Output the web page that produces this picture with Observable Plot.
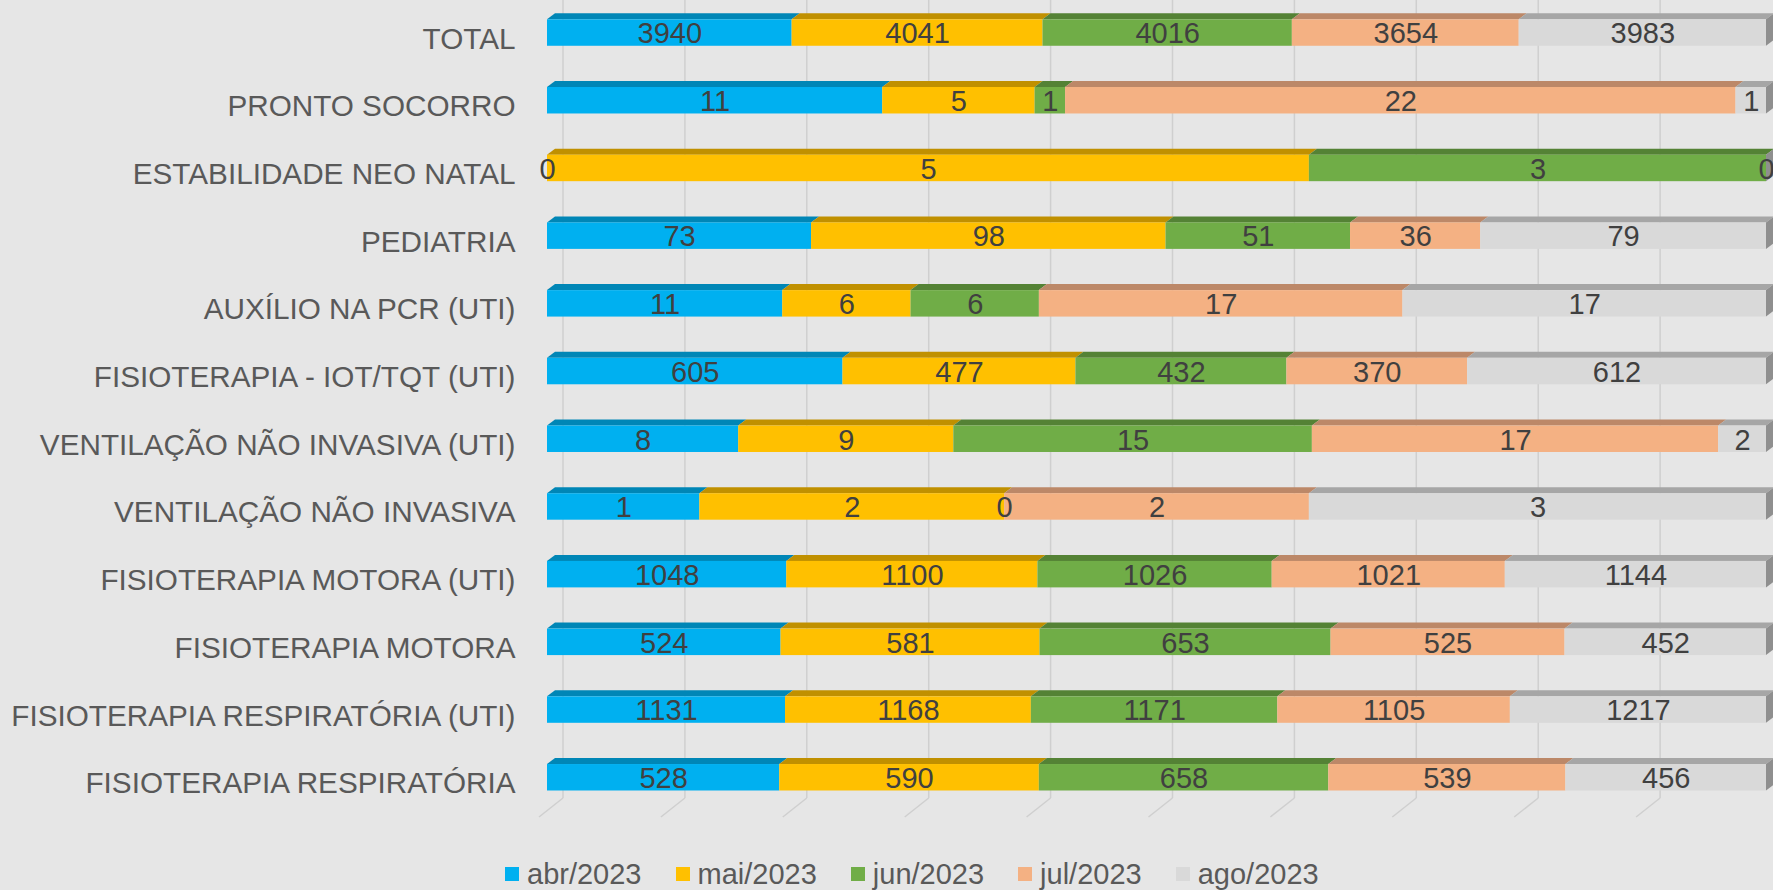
<!DOCTYPE html>
<html>
<head>
<meta charset="utf-8">
<script src="https://cdn.jsdelivr.net/npm/d3@7"></script>
<script src="https://cdn.jsdelivr.net/npm/@observablehq/plot@0.6"></script>
<style>
html,body{margin:0;padding:0;background:#e6e6e6;}
#chart{position:relative;width:1773px;height:890px;overflow:hidden;font-family:"Liberation Sans",Arial,sans-serif;}
#chart svg{display:block;}
#legend{position:absolute;left:505px;top:857px;display:flex;align-items:center;font-size:29px;line-height:34px;color:#595959;white-space:nowrap;}
.item{display:flex;align-items:center;margin-right:34px;}
.sw{width:14px;height:14px;margin-right:8px;}
</style>
</head>
<body>
<div id="chart"><div id="legend"></div></div>
<script>
const categories = [
  "TOTAL",
  "PRONTO SOCORRO",
  "ESTABILIDADE NEO NATAL",
  "PEDIATRIA",
  "AUXÍLIO NA PCR (UTI)",
  "FISIOTERAPIA - IOT/TQT (UTI)",
  "VENTILAÇÃO NÃO INVASIVA (UTI)",
  "VENTILAÇÃO NÃO INVASIVA",
  "FISIOTERAPIA MOTORA (UTI)",
  "FISIOTERAPIA MOTORA",
  "FISIOTERAPIA RESPIRATÓRIA (UTI)",
  "FISIOTERAPIA RESPIRATÓRIA"
];
const series = ["abr/2023", "mai/2023", "jun/2023", "jul/2023", "ago/2023"];
const abr = [3940, 11, 0, 73, 11, 605, 8, 1, 1048, 524, 1131, 528];
const mai = [4041, 5, 5, 98, 6, 477, 9, 2, 1100, 581, 1168, 590];
const jun = [4016, 1, 3, 51, 6, 432, 15, 0, 1026, 653, 1171, 658];
const jul = [3654, 22, null, 36, 17, 370, 17, 2, 1021, 525, 1105, 539];
const ago = [3983, 1, 0, 79, 17, 612, 2, 3, 1144, 452, 1217, 456];
const gridTicks = [0, 0.1, 0.2, 0.3, 0.4, 0.5, 0.6, 0.7, 0.8, 0.9];

const frontColors = ["#00B0F0", "#FFC000", "#70AD47", "#F4B183", "#D9D9D9"];
const topColors = ["#0086B6", "#C09000", "#548235", "#BC8868", "#A6A6A6"];
const sideColor = "#8F8F8F";

const seriesValues = [abr, mai, jun, jul, ago];
const table = [];
categories.forEach((cat, i) => {
  seriesValues.forEach((vals, s) => {
    if (vals[i] != null) table.push({cat, series: series[s], s, value: vals[i]});
  });
});

const DX = 8, DY = 6;
const font = '"Liberation Sans", Arial, sans-serif';

const stackOpts = (extra) => Plot.stackX({x: "value", y: "cat", z: "series", offset: "normalize", ...extra});

const svg = Plot.plot({
  width: 1773,
  height: 857,
  marginLeft: 547,
  marginRight: 7,
  marginTop: 0,
  marginBottom: 59,
  style: {background: "transparent", fontFamily: font, overflow: "visible"},
  x: {domain: [0, 1], axis: null},
  y: {domain: categories, paddingInner: 0.609, paddingOuter: 0.198, align: 0.72, round: false, axis: null},
  color: {type: "identity"},
  marks: [
    Plot.ruleX(gridTicks, {x: d => d, dx: 15.5, stroke: "#cfcfcf", strokeWidth: 1.5}),
    Plot.ruleX(gridTicks, {x: d => d, dx: 15.5, stroke: "#cfcfcf", strokeWidth: 1.5, ariaDescription: "floor"}),
    Plot.axisY({tickSize: 0, tickPadding: 32, fontSize: 29.7, fill: "#595959", label: null, dy: 6, fontFamily: font}),
    Plot.barX(table, stackOpts({fill: d => topColors[d.s], ariaDescription: "top"})),
    Plot.barX(categories, {x1: () => 1, x2: () => 1, y: d => d, fill: sideColor, ariaDescription: "side"}),
    Plot.barX(table, stackOpts({fill: d => frontColors[d.s]})),
    Plot.text(table, stackOpts({text: d => String(d.value), fill: "#404040", fontSize: 29, dy: 1, fontFamily: font}))
  ]
});

const NS = "http://www.w3.org/2000/svg";
const root = d3.select(svg);
root.selectAll('g[aria-description="top"] rect').each(function () {
  const x = +this.getAttribute("x"), y = +this.getAttribute("y"), w = +this.getAttribute("width");
  const p = document.createElementNS(NS, "path");
  p.setAttribute("d", `M${x},${y}H${x + w}L${x + w + DX},${y - DY}H${x + DX}Z`);
  if (this.getAttribute("fill")) p.setAttribute("fill", this.getAttribute("fill"));
  this.replaceWith(p);
});
root.selectAll('g[aria-description="side"] rect').each(function () {
  const x = +this.getAttribute("x"), y = +this.getAttribute("y"), h = +this.getAttribute("height");
  const p = document.createElementNS(NS, "path");
  p.setAttribute("d", `M${x},${y}L${x + DX},${y - DY}V${y + h - DY}L${x},${y + h}Z`);
  this.replaceWith(p);
});
root.selectAll('g[aria-description="floor"] line').each(function () {
  const x = +this.getAttribute("x1"), y = +this.getAttribute("y2");
  this.setAttribute("y1", y);
  this.setAttribute("x2", x - 24);
  this.setAttribute("y2", y + 19);
});

const chart = document.getElementById("chart");
chart.insertBefore(svg, chart.firstChild);

const legend = document.getElementById("legend");
series.forEach((s, i) => {
  const item = document.createElement("div");
  item.className = "item";
  const sw = document.createElement("span");
  sw.className = "sw";
  sw.style.background = frontColors[i];
  const t = document.createElement("span");
  t.textContent = s;
  item.appendChild(sw);
  item.appendChild(t);
  legend.appendChild(item);
});
</script>
</body>
</html>
